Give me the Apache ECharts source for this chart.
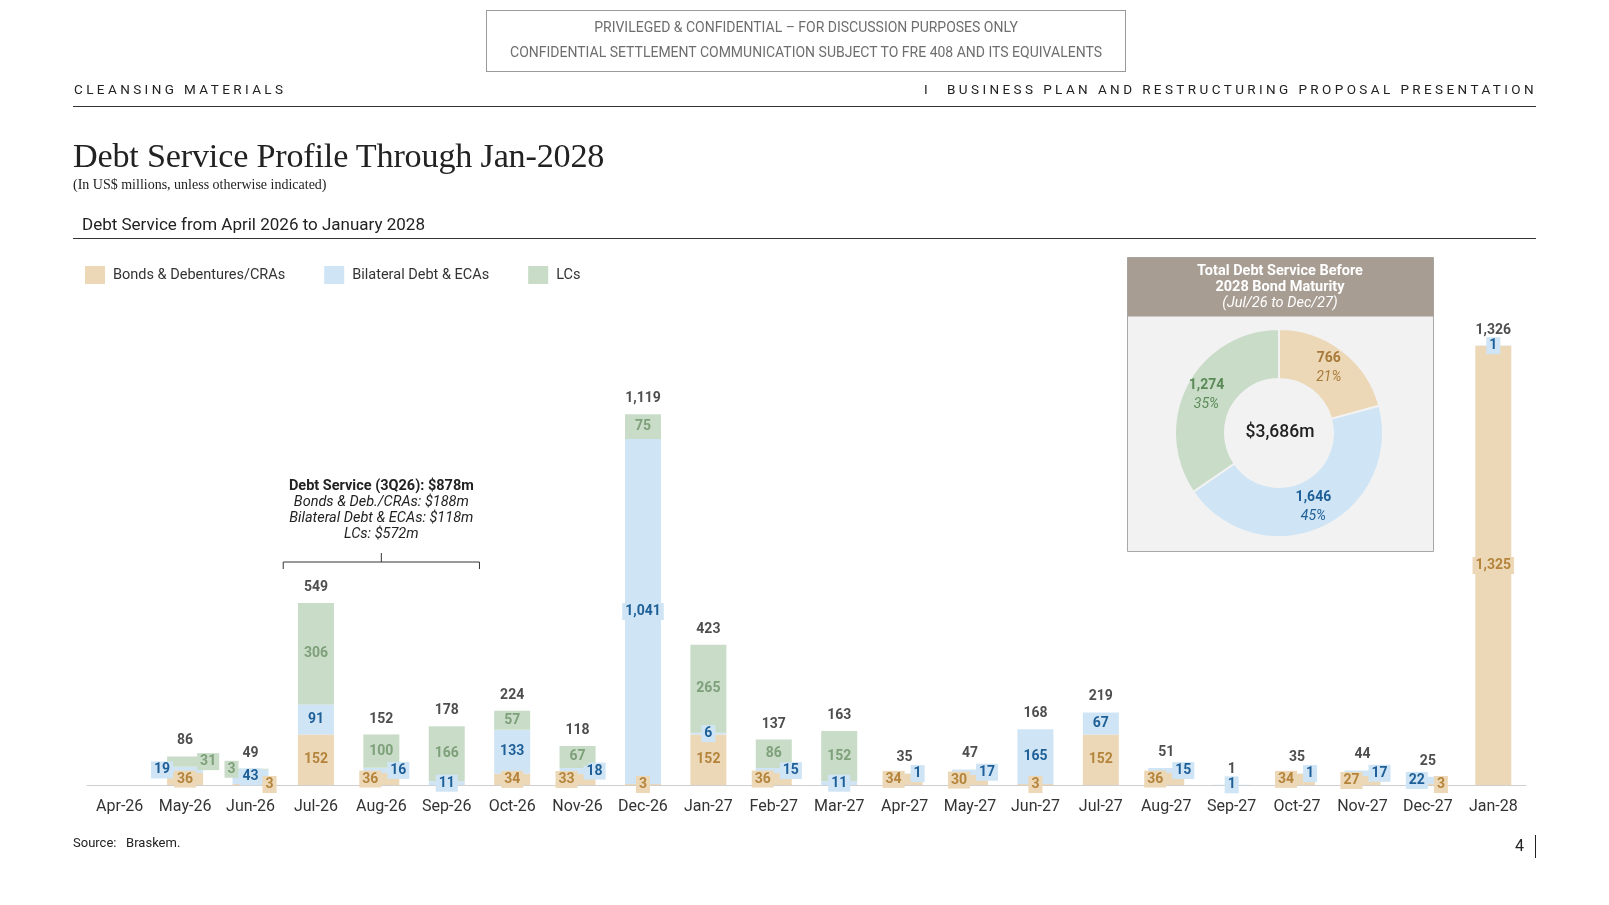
<!DOCTYPE html>
<html>
<head>
<meta charset="utf-8">
<title>Debt Service Profile Through Jan-2028</title>
<script src="https://cdn.jsdelivr.net/npm/echarts@6/dist/echarts.min.js"></script>
<style>
    body { margin: 0; background: #fff; font-family: Roboto, 'Liberation Sans', sans-serif; color: #222; }
    #page { position: relative; width: 1609px; height: 905px; overflow: hidden; }
    #chart { position: absolute; left: 0; top: 0; width: 1609px; height: 905px; }
    .abs { position: absolute; white-space: nowrap; }
    .conf { left: 486px; top: 10px; width: 638px; height: 60px; border: 1px solid #9a9a9a; text-align: center; color: #6e6e6e; font-size: 14px; }
    .conf div { line-height: 25px; }
    .hdr { top: 81px; font-size: 13.5px; letter-spacing: 3.4px; color: #222; }
    .rule { height: 0; border-top: 1px solid #333; }
    .title { left: 73px; top: 137px; font-family: 'Liberation Serif', serif; font-size: 34.2px; color: #222; letter-spacing: -0.2px; }
    .subtitle { left: 73px; top: 177px; font-family: 'Liberation Serif', serif; font-size: 14px; color: #222; }
    .section { left: 82px; top: 214px; font-size: 17px; color: #222; }
    .source { left: 73px; top: 835px; font-size: 13px; color: #222; }
    .pageno { left: 1515px; top: 836px; font-size: 16px; color: #222; }
</style>
</head>
<body>
<div id="page">
    <div id="chart"></div>
    <div class="abs conf">
        <div style="margin-top:4px">PRIVILEGED &amp; CONFIDENTIAL – FOR DISCUSSION PURPOSES ONLY</div>
        <div>CONFIDENTIAL SETTLEMENT COMMUNICATION SUBJECT TO FRE 408 AND ITS EQUIVALENTS</div>
    </div>
    <div class="abs hdr" style="left:74px">CLEANSING MATERIALS</div>
    <div class="abs hdr" style="right:72px"><span style="margin-right:16px">I</span>BUSINESS PLAN AND RESTRUCTURING PROPOSAL PRESENTATION</div>
    <div class="abs rule" style="left:73px; top:106px; width:1463px"></div>
    <div class="abs title">Debt Service Profile Through Jan-2028</div>
    <div class="abs subtitle">(In US$ millions, unless otherwise indicated)</div>
    <div class="abs section">Debt Service from April 2026 to January 2028</div>
    <div class="abs rule" style="left:73px; top:238px; width:1463px"></div>
    <div class="abs source">Source:&nbsp;&nbsp;&nbsp;Braskem.</div>
    <div class="abs pageno">4</div>
    <div class="abs" style="left:1535px; top:835px; width:0; height:23px; border-left:1px solid #222"></div>
</div>
<script>
// Monthly debt service, US$ millions
const categories = ['Apr-26', 'May-26', 'Jun-26', 'Jul-26', 'Aug-26', 'Sep-26', 'Oct-26', 'Nov-26',
    'Dec-26', 'Jan-27', 'Feb-27', 'Mar-27', 'Apr-27', 'May-27', 'Jun-27', 'Jul-27', 'Aug-27',
    'Sep-27', 'Oct-27', 'Nov-27', 'Dec-27', 'Jan-28'];
const bonds     = [0, 36, 3, 152, 36, 0, 34, 33, 3, 152, 36, 0, 34, 30, 3, 152, 36, 0, 34, 27, 3, 1325];
const bilateral = [0, 19, 43, 91, 16, 11, 133, 18, 1041, 6, 15, 11, 1, 17, 165, 67, 15, 1, 1, 17, 22, 1];
const lcs       = [0, 31, 3, 306, 100, 166, 57, 67, 75, 265, 86, 152, 0, 0, 0, 0, 0, 0, 0, 0, 0, 0];
const totals    = [null, 86, 49, 549, 152, 178, 224, 118, 1119, 423, 137, 163, 35, 47, 168, 219, 51, 1, 35, 44, 25, 1326];

// Donut: Jul/26 to Dec/27
const pieNames  = ['Bonds & Debentures/CRAs', 'Bilateral Debt & ECAs', 'LCs'];
const pieValues = [766, 1646, 1274];

const calloutLines = ['Debt Service (3Q26): $878m', 'Bonds & Deb./CRAs: $188m',
    'Bilateral Debt & ECAs: $118m', 'LCs: $572m'];

const seriesNames = ['Bonds & Debentures/CRAs', 'Bilateral Debt & ECAs', 'LCs'];
const fills  = ['#ecd8b6', '#cfe5f5', '#c8dcc7'];
const inks   = ['#b5843c', '#1f5f97', '#7ea07a'];
const stacks = [bonds, bilateral, lcs];

const fmt = v => v.toLocaleString('en-US');
const FONT = 'Roboto, "Liberation Sans", sans-serif';

// small segments get their labels pushed sideways so they don't pile up
const SMALL = 50;
function placement(k, i) {
    const small = [0, 1, 2].filter(s => stacks[s][i] > 0 && stacks[s][i] < SMALL)
        .sort((a, b) => stacks[b][i] - stacks[a][i]);
    const pos = small.indexOf(k);
    if (pos < 0 || small.length === 1) return {};
    if (small.length === 2) {
        return pos === 0 ? { align: 'right', offset: [0, 0] } : { align: 'left', offset: [6, 0] };
    }
    if (pos === 0) return {};
    return pos === 1 ? { align: 'left', offset: [12, 0] } : { align: 'right', offset: [-12, 0] };
}

const barSeries = stacks.map((arr, k) => ({
    name: seriesNames[k],
    type: 'bar',
    stack: 'debt',
    barWidth: 36,
    itemStyle: { color: fills[k] },
    data: arr.map((v, i) => ({
        value: v,
        label: Object.assign({ show: v > 0 }, placement(k, i))
    })),
    label: {
        position: 'inside',
        formatter: p => fmt(p.value),
        color: inks[k],
        fontFamily: FONT,
        fontWeight: 'bold',
        fontSize: 14,
        backgroundColor: fills[k],
        padding: [2, 3, 1, 3]
    }
}));

const pieTotal = pieValues.reduce((a, b) => a + b, 0);
const pieInks = ['#a87a3a', '#1f5f97', '#5b8a58'];

const chart = echarts.init(document.getElementById('chart'));

const option = {
    animation: false,
    legend: {
        data: seriesNames,
        left: 85,
        top: 266,
        padding: 0,
        itemWidth: 20,
        itemHeight: 18,
        itemGap: 39,
        icon: 'rect',
        textStyle: { fontFamily: FONT, fontSize: 14.5, color: '#333', padding: [0, 0, 0, 3] },
        selectedMode: false
    },
    grid: { left: 87, right: 83, top: 321, bottom: 120 },
    xAxis: {
        type: 'category',
        data: categories,
        axisLine: { lineStyle: { color: '#cfcfcf' } },
        axisTick: { show: false },
        axisLabel: { interval: 0, fontFamily: FONT, fontSize: 16, color: '#333', margin: 14 }
    },
    yAxis: { type: 'value', min: 0, max: 1400, show: false, splitLine: { show: false } },
    series: barSeries.concat([
        {
            name: 'Total',
            type: 'scatter',
            symbolSize: 1,
            itemStyle: { color: 'rgba(0,0,0,0)' },
            data: totals,
            label: {
                show: true,
                position: 'top',
                distance: 8,
                formatter: p => p.value == null ? '' : fmt(p.value),
                fontFamily: FONT,
                fontWeight: 'bold',
                fontSize: 14,
                color: '#222'
            }
        },
        {
            name: 'Donut',
            type: 'pie',
            center: [1279, 433],
            radius: [54, 104],
            startAngle: 90,
            itemStyle: { borderColor: '#f2f2f2', borderWidth: 2 },
            emphasis: { disabled: true },
            z: 10,
            data: pieValues.map((v, k) => ({
                name: pieNames[k],
                value: v,
                itemStyle: { color: fills[k] },
                label: { color: pieInks[k] }
            })),
            label: {
                position: 'inside',
                fontFamily: FONT,
                formatter: p => '{v|' + fmt(p.value) + '}\n{p|' + Math.round(p.value / pieTotal * 100) + '%}',
                rich: {
                    v: { fontWeight: 'bold', fontSize: 14, lineHeight: 19, fontFamily: FONT },
                    p: { fontStyle: 'italic', fontSize: 14, lineHeight: 19, fontFamily: FONT }
                }
            }
        }
    ])
};

chart.setOption(option);

// callout bracket over Jul-26..Sep-26, donut panel box
const half = (chart.convertToPixel({ xAxisIndex: 0 }, categories[1]) -
              chart.convertToPixel({ xAxisIndex: 0 }, categories[0])) / 2;
const x0 = chart.convertToPixel({ xAxisIndex: 0 }, 'Jul-26') - half;
const x1 = chart.convertToPixel({ xAxisIndex: 0 }, 'Sep-26') + half;
const xm = (x0 + x1) / 2;
const yb = 562;

const graphics = [
    { type: 'rect', shape: { x: 1127.5, y: 257.5, width: 306, height: 294 },
      style: { fill: '#f2f2f2', stroke: '#a8a8a8', lineWidth: 1 }, z: 1 },
    { type: 'rect', shape: { x: 1127.5, y: 257.5, width: 306, height: 59 },
      style: { fill: '#a89d93' }, z: 2 },
    { type: 'text', x: 1280, y: 271, z: 3,
      style: { text: 'Total Debt Service Before', fill: '#fff', font: 'bold 14.5px ' + FONT, textAlign: 'center', textVerticalAlign: 'middle' } },
    { type: 'text', x: 1280, y: 287, z: 3,
      style: { text: '2028 Bond Maturity', fill: '#fff', font: 'bold 14.5px ' + FONT, textAlign: 'center', textVerticalAlign: 'middle' } },
    { type: 'text', x: 1280, y: 303, z: 3,
      style: { text: '(Jul/26 to Dec/27)', fill: '#fff', font: 'italic 14.5px ' + FONT, textAlign: 'center', textVerticalAlign: 'middle' } },
    { type: 'text', x: 1280, y: 433, z: 20,
      style: { text: '$' + fmt(pieTotal) + 'm', fill: '#222', font: '500 17.5px ' + FONT, textAlign: 'center', textVerticalAlign: 'middle' } },
    { type: 'polyline', z: 5,
      shape: { points: [[x0, yb + 7], [x0, yb], [x1, yb], [x1, yb + 7]] },
      style: { stroke: '#333', lineWidth: 1, fill: null } },
    { type: 'line', z: 5, shape: { x1: xm, y1: yb, x2: xm, y2: yb - 9 },
      style: { stroke: '#333', lineWidth: 1 } }
];
calloutLines.forEach((t, j) => {
    graphics.push({
        type: 'text', x: xm, y: 486 + j * 16.2, z: 5,
        style: {
            text: t, fill: '#222', textAlign: 'center', textVerticalAlign: 'middle',
            font: (j === 0 ? 'bold ' : 'italic ') + '14.5px ' + FONT
        }
    });
});

chart.setOption({ graphic: graphics });
</script>
</body>
</html>
